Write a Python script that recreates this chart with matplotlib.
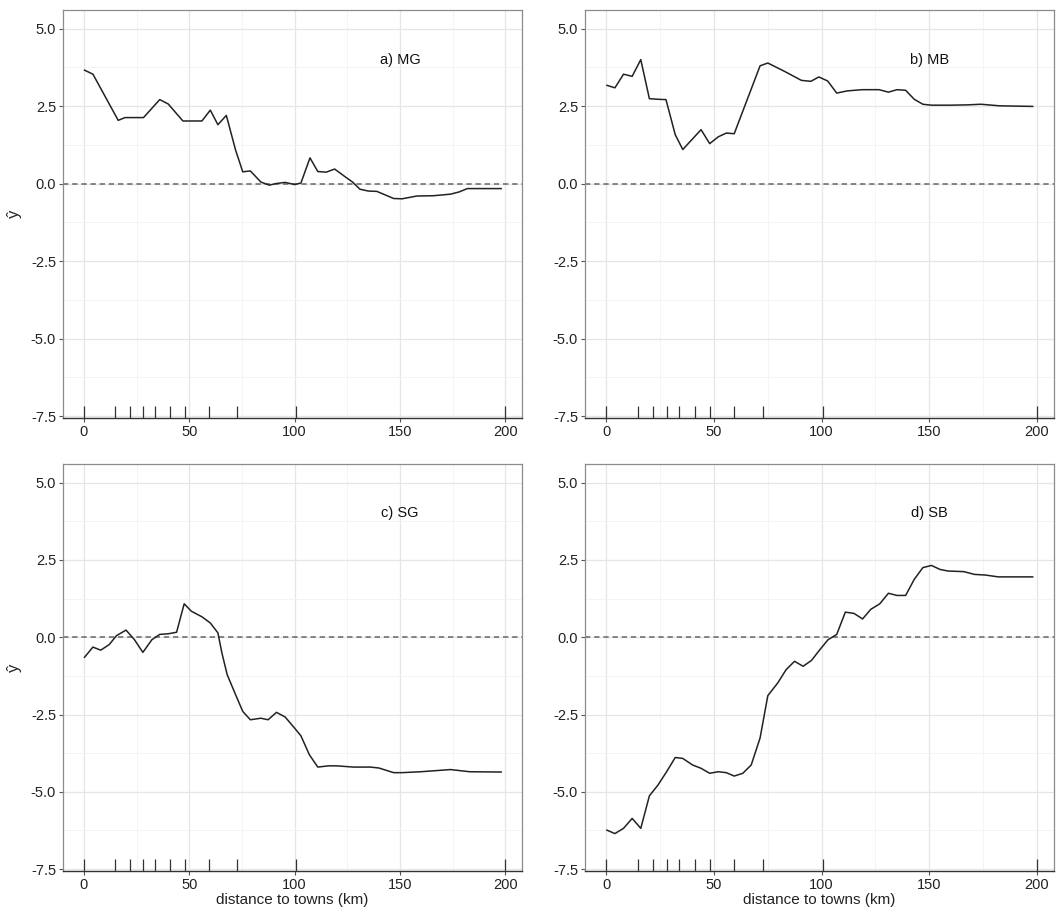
import numpy as np
import matplotlib.pyplot as plt
from matplotlib.ticker import MultipleLocator
import matplotlib.transforms as mtransforms

plt.rcParams['font.family'] = ['Liberation Sans', 'DejaVu Sans']

# partial dependence of y-hat on distance to towns, one curve per group
mg_x = [0.3, 4.3, 16.3, 19.5, 24, 28.3, 36, 40, 47, 56, 60, 63.6, 67.6, 72, 75.4, 79,
        84, 88, 91, 95.5, 100, 103, 107.3, 111, 115, 119, 124, 127.5, 131, 135, 139,
        147, 151, 158, 166, 174, 178, 182, 198]
mg_y = [3.66, 3.53, 2.04, 2.13, 2.13, 2.13, 2.71, 2.57, 2.02, 2.02, 2.37, 1.90, 2.20,
        1.08, 0.38, 0.41, 0.05, -0.05, 0.0, 0.04, -0.03, 0.02, 0.83, 0.39, 0.37, 0.47,
        0.22, 0.05, -0.18, -0.24, -0.25, -0.48, -0.49, -0.40, -0.39, -0.34, -0.27,
        -0.16, -0.16]

mb_x = [0.3, 4, 8, 12, 16, 20, 24, 27.7, 32, 35.5, 44, 48, 52, 55.7, 59.4, 64, 71.4,
        75, 82.5, 90.6, 95, 98.7, 102.8, 107, 111.8, 118.8, 126.7, 131, 135, 139, 143,
        147, 151, 159.7, 167.6, 174, 182.5, 198]
mb_y = [3.17, 3.09, 3.53, 3.46, 4.00, 2.74, 2.72, 2.71, 1.58, 1.10, 1.74, 1.29, 1.51,
        1.63, 1.61, 2.45, 3.80, 3.89, 3.63, 3.33, 3.30, 3.44, 3.31, 2.92, 2.99, 3.03,
        3.03, 2.95, 3.03, 3.01, 2.72, 2.56, 2.53, 2.53, 2.54, 2.56, 2.51, 2.49]

sg_x = [0.3, 4.3, 8, 12, 15.5, 20, 24, 28, 32.3, 36, 40, 44, 47.6, 51, 56, 60, 63.6,
        65.5, 68, 72, 75.4, 79, 84, 87.4, 91.4, 95.5, 100, 103, 107, 111, 116, 120,
        128, 136, 140, 147, 151, 160, 166, 174, 183, 198]
sg_y = [-0.65, -0.32, -0.42, -0.24, 0.05, 0.23, -0.08, -0.49, -0.08, 0.09, 0.11, 0.16,
        1.08, 0.84, 0.66, 0.46, 0.14, -0.51, -1.21, -1.86, -2.40, -2.67, -2.62, -2.67,
        -2.43, -2.58, -2.94, -3.19, -3.80, -4.20, -4.16, -4.16, -4.20, -4.20, -4.23,
        -4.38, -4.38, -4.35, -4.32, -4.28, -4.35, -4.36]

sb_x = [0.3, 4, 8, 12, 16, 20, 24, 28, 32, 35.5, 40, 44, 48, 52, 55.7, 59.4, 63.4,
        67.3, 71.4, 75, 79.6, 83.5, 87.4, 91.4, 95.3, 99.2, 103, 107, 111, 115, 119,
        122.8, 127, 131, 135, 139, 143, 147, 151, 155, 158.6, 166, 171, 176, 182, 198]
sb_y = [-6.24, -6.35, -6.18, -5.86, -6.18, -5.13, -4.78, -4.35, -3.89, -3.92, -4.13,
        -4.24, -4.40, -4.35, -4.38, -4.49, -4.40, -4.13, -3.26, -1.89, -1.48, -1.05,
        -0.78, -0.94, -0.75, -0.40, -0.08, 0.09, 0.81, 0.77, 0.59, 0.90, 1.08, 1.42,
        1.35, 1.35, 1.87, 2.25, 2.32, 2.19, 2.14, 2.12, 2.03, 2.01, 1.95, 1.95]

# deciles of the observed distances, shown as a rug
rug_x = [0, 14.6, 21.8, 28, 33.9, 41, 48.1, 59.4, 72.8, 100.5, 199.8]

labels = ["a) MG", "b) MB", "c) SG", "d) SB"]
curves = [(mg_x, mg_y), (mb_x, mb_y), (sg_x, sg_y), (sb_x, sb_y)]

W, H = 1056, 911
fig = plt.figure(figsize=(W / 100, H / 100), dpi=100)

# panel boxes in pixels: left, right, top, bottom
boxes = [(63, 522, 10, 418), (585, 1054, 10, 418),
         (63, 522, 464, 871), (585, 1054, 464, 871)]

for i, (box, (cx, cy), lab) in enumerate(zip(boxes, curves, labels)):
    l, r, t, b = box
    ax = fig.add_axes([l / W, 1 - b / H, (r - l) / W, (b - t) / H])

    ax.set_xlim(-9.9, 207.9)
    ax.set_ylim(-7.56, 5.6)
    ax.xaxis.set_major_locator(MultipleLocator(50))
    ax.xaxis.set_minor_locator(MultipleLocator(25))
    ax.yaxis.set_major_locator(MultipleLocator(2.5))
    ax.yaxis.set_minor_locator(MultipleLocator(1.25))
    ax.yaxis.set_major_formatter(plt.FuncFormatter(lambda v, p: f"{v:.1f}"))

    ax.grid(which="major", color="#e6e6e6", lw=0.9)
    ax.grid(which="minor", color="#f2f2f2", lw=0.6)
    ax.set_axisbelow(True)

    for side in ["top", "left", "right"]:
        ax.spines[side].set_color("#8c8c8c")
        ax.spines[side].set_linewidth(0.9)
    ax.spines["bottom"].set_color("#333333")
    ax.spines["bottom"].set_linewidth(1.0)

    ax.tick_params(which="major", length=3, width=0.8, color="#555555",
                   labelsize=10.5, labelcolor="#222222", pad=2)
    ax.tick_params(which="minor", length=0)

    ax.axhline(0, color="#666666", lw=1.1, ls=(0, (3.5, 2.5)))
    ax.plot(cx, cy, color="#222222", lw=1.1)

    trans = mtransforms.blended_transform_factory(ax.transData, ax.transAxes)
    ax.vlines(rug_x, 0, 0.03, transform=trans, color="#333333", lw=0.9)

    ax.text(150, 4, lab, ha="center", va="center", fontsize=10.5, color="#111111")

    if i % 2 == 0:
        ax.set_ylabel("ŷ", fontsize=12, color="#222222", va="center")
        ax.yaxis.set_label_coords(-0.105, 0.5)
    if i >= 2:
        ax.set_xlabel("distance to towns (km)", fontsize=11, color="#222222", labelpad=1)

fig.savefig("out.png", dpi=100)
